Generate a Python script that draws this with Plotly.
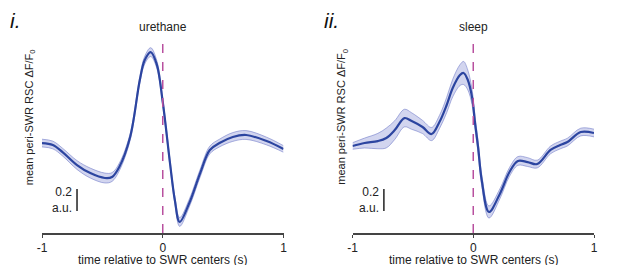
import plotly.graph_objects as go
from plotly.subplots import make_subplots

# ---- data (a.u.) ----
ure_t = [-1.0, -0.91, -0.83, -0.71, -0.6, -0.48, -0.42, -0.36, -0.27, -0.19, -0.15, -0.1,
         -0.05, 0.0, 0.06, 0.1, 0.14, 0.22, 0.31, 0.39, 0.47, 0.58, 0.69, 0.86, 1.0]
ure_mean = [0.818, 0.800, 0.736, 0.618, 0.545, 0.500, 0.509, 0.600, 0.873, 1.391, 1.570, 1.645,
            1.536, 1.191, 0.636, 0.300, 0.100, 0.273, 0.545, 0.755, 0.818, 0.873, 0.891, 0.836,
            0.764]
ure_sem = [0.035, 0.035, 0.035, 0.04, 0.045, 0.045, 0.04, 0.035, 0.03, 0.03, 0.035, 0.04,
           0.035, 0.03, 0.03, 0.03, 0.04, 0.035, 0.035, 0.035, 0.035, 0.04, 0.04, 0.035, 0.03]

slp_t = [-1.0, -0.9, -0.79, -0.72, -0.65, -0.57, -0.51, -0.42, -0.345, -0.28, -0.22, -0.17,
         -0.11, -0.08, -0.045, -0.01, 0.015, 0.04, 0.07, 0.13, 0.22, 0.3, 0.37, 0.45, 0.53,
         0.64, 0.72, 0.78, 0.89, 1.0]
slp_mean = [0.791, 0.818, 0.836, 0.864, 0.936, 1.045, 1.018, 0.964, 0.900, 1.009, 1.164, 1.318,
            1.436, 1.455, 1.391, 1.236, 1.000, 0.782, 0.482, 0.191, 0.355, 0.555, 0.655, 0.645,
            0.627, 0.755, 0.800, 0.827, 0.918, 0.909]
slp_sem = [0.03, 0.045, 0.07, 0.09, 0.085, 0.08, 0.075, 0.06, 0.06, 0.06, 0.07, 0.08,
           0.095, 0.105, 0.09, 0.07, 0.06, 0.055, 0.05, 0.055, 0.045, 0.04, 0.04, 0.04, 0.035,
           0.035, 0.035, 0.035, 0.035, 0.035]

panels = [("urethane", "<i>i.</i>", ure_t, ure_mean, ure_sem),
          ("sleep", "<i>ii.</i>", slp_t, slp_mean, slp_sem)]

x_ticks = [-1, 0, 1]
x_title = "time relative to SWR centers (s)"
scale_bar = [0.2, 0.4]
y_top = 1.755

FONT = "Arial, Liberation Sans, Helvetica, sans-serif"
LINE = "#2c45a0"
BAND = "rgba(125,135,210,0.35)"
BAND_EDGE = "rgba(110,120,200,0.7)"
DASH = "#b8509f"

fig = make_subplots(rows=1, cols=2, horizontal_spacing=0.125)

for i, (name, label, t, m, s) in enumerate(panels):
    col = i + 1
    upper = [a + b for a, b in zip(m, s)]
    lower = [a - b for a, b in zip(m, s)]
    fig.add_trace(go.Scatter(x=t, y=upper, mode="lines", line=dict(color=BAND_EDGE, width=0.8, shape="spline"),
                             showlegend=False, hoverinfo="skip"), row=1, col=col)
    fig.add_trace(go.Scatter(x=t, y=lower, mode="lines", line=dict(color=BAND_EDGE, width=0.8, shape="spline"),
                             fill="tonexty", fillcolor=BAND, showlegend=False, hoverinfo="skip"), row=1, col=col)
    fig.add_trace(go.Scatter(x=t, y=m, mode="lines", line=dict(color=LINE, width=2.2, shape="spline"),
                             showlegend=False), row=1, col=col)
    # dashed zero line
    fig.add_trace(go.Scatter(x=[0, 0], y=[0, 1.73], mode="lines",
                             line=dict(color=DASH, width=1.5, dash="dash"),
                             showlegend=False, hoverinfo="skip"), row=1, col=col)
    # scale bar
    sbx = -0.71 if i == 0 else -0.74
    fig.add_trace(go.Scatter(x=[sbx, sbx], y=scale_bar, mode="lines",
                             line=dict(color="#222", width=1.5),
                             showlegend=False, hoverinfo="skip"), row=1, col=col)
    xref = "x" if i == 0 else "x2"
    yref = "y" if i == 0 else "y2"
    fig.add_annotation(x=sbx - 0.025, y=sum(scale_bar) / 2, xref=xref, yref=yref,
                       text="0.2<br>a.u.", showarrow=False, xanchor="right", align="right",
                       font=dict(family=FONT, size=12, color="#222"))

axis_style = dict(range=[-1, 1], tickvals=x_ticks, ticktext=["-1", "0", "1"],
                  showline=True, linecolor="#444", linewidth=2, ticks="outside",
                  ticklen=3, tickcolor="#444", showgrid=False, zeroline=False, automargin=False,
                  tickfont=dict(family=FONT, size=12, color="#222"))
fig.update_xaxes(**axis_style)
fig.update_yaxes(range=[0, y_top], visible=False, automargin=False)

fig.update_layout(width=601, height=257, margin=dict(l=34, r=15, t=32, b=32, autoexpand=False),
                  plot_bgcolor="white", paper_bgcolor="white")

doms = [fig.layout.xaxis.domain, fig.layout.xaxis2.domain]
for i, (name, label, t, m, s) in enumerate(panels):
    d0, d1 = doms[i]
    fig.add_annotation(x=(d0 + d1) / 2, y=1, xref="paper", yref="paper", yshift=13,
                       text=name, showarrow=False, xanchor="center", yanchor="middle",
                       font=dict(family=FONT, size=12, color="#222"))
    fig.add_annotation(x=(d0 + d1) / 2, y=0, xref="paper", yref="paper", yshift=-27,
                       text=x_title, showarrow=False, xanchor="center", yanchor="middle",
                       font=dict(family=FONT, size=12, color="#222"))
    fig.add_annotation(x=d0, y=1, xref="paper", yref="paper", xshift=-34 if i == 0 else -31,
                       yshift=20, text=label, showarrow=False, xanchor="left", yanchor="middle",
                       font=dict(family=FONT, size=21, color="#111"))
    fig.add_annotation(x=d0, y=0.6, xref="paper", yref="paper", xshift=-12 if i == 0 else -10,
                       text="mean peri-SWR RSC ΔF/F<sub>0</sub>", textangle=-90, showarrow=False,
                       xanchor="center", yanchor="middle",
                       font=dict(family=FONT, size=11, color="#222"))

fig.write_html("out.html")
